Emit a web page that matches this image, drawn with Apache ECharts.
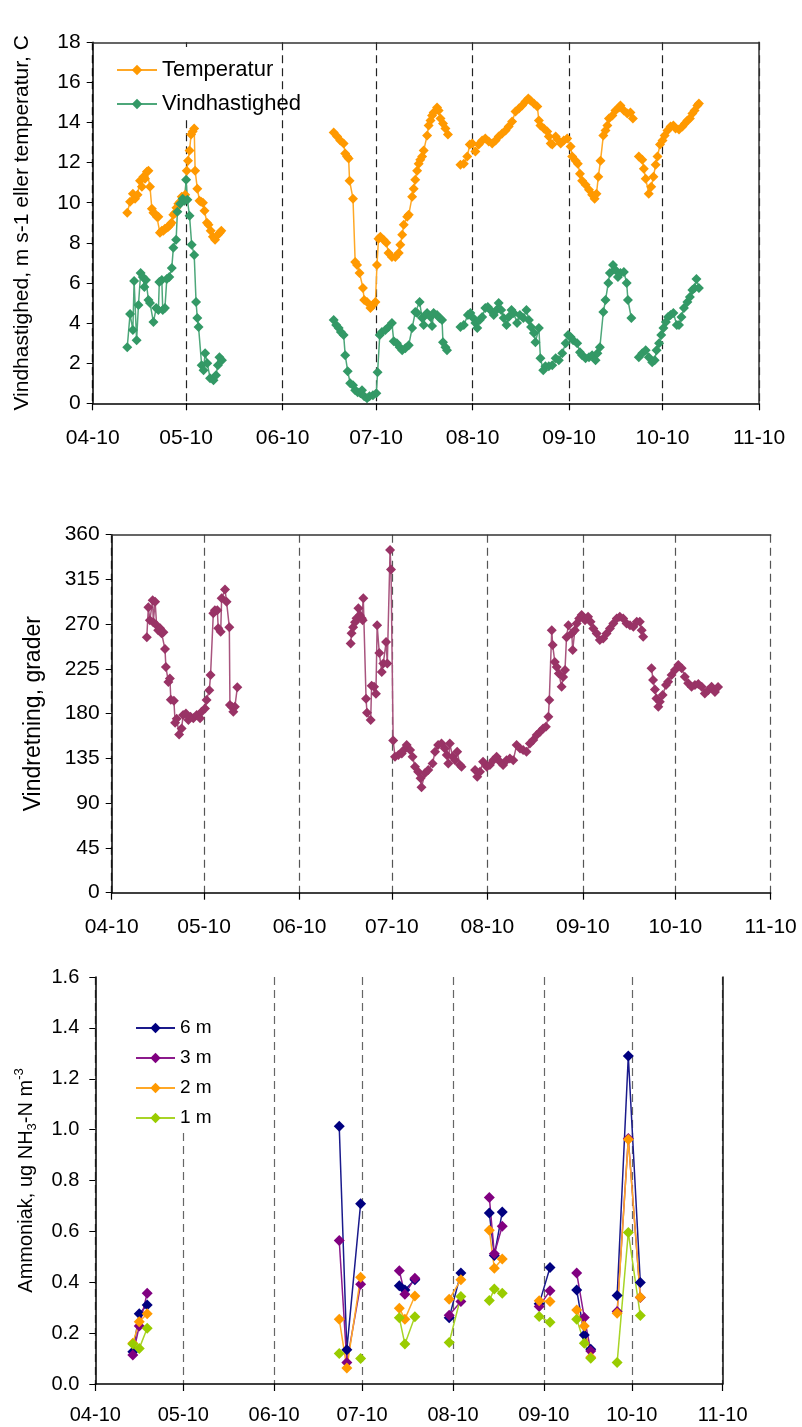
<!DOCTYPE html>
<html>
<head>
<meta charset="utf-8">
<script src="https://cdn.jsdelivr.net/npm/echarts@6/dist/echarts.min.js"></script>
<style>
html,body{margin:0;padding:0;background:#fff;}
#c{width:802px;height:1427px;}
</style>
</head>
<body>
<div id="c"></div>
<script>
// ---------- DATA (day offsets from 1 April 2010, value) ----------
const tickMonths = ['04-10','05-10','06-10','07-10','08-10','09-10','10-10','11-10'];

const tempSegments = [
 [[11.1,9.5],[12.0,10.05],[12.9,10.45],[13.6,10.2],[14.4,10.4],[15.2,11.1],[15.8,10.8],[16.3,11.3],[16.8,11.2],[17.4,11.55],[17.9,11.6],[18.4,10.8],[19.0,9.7],[19.5,9.5],[20.0,9.45],[20.6,9.3],[21.1,9.3],[21.6,8.5],[22.2,8.6],[22.7,8.6],[23.2,8.7],[23.8,8.75],[24.3,8.8],[24.9,8.9],[25.3,9.0],[25.9,9.4],[26.5,9.5],[26.9,9.75],[27.5,9.95],[28.1,10.05],[28.6,10.3],[29.1,10.25],[29.7,10.4],[30.2,11.6],[30.6,12.1],[31.1,12.6],[31.6,13.4],[32.1,13.55],[32.6,13.7],[32.9,11.6],[33.6,10.7],[34.3,10.1],[34.8,10.05],[35.4,10.0],[35.9,9.6],[36.7,9.0],[37.2,8.9],[37.9,8.6],[38.6,8.3],[39.3,8.15],[40.2,8.4],[40.8,8.5],[41.3,8.6]],
 [[77.4,13.5],[78.5,13.3],[79.5,13.1],[80.6,12.95],[81.1,12.45],[81.7,12.3],[82.2,12.2],[82.5,11.1],[83.6,10.2],[84.3,7.05],[84.9,6.9],[85.7,6.5],[86.8,5.75],[87.2,5.15],[88.1,5.05],[89.2,4.75],[90.0,4.9],[90.8,5.05],[91.3,6.9],[91.8,8.2],[92.4,8.3],[93.4,8.15],[94.3,8.0],[95.0,7.5],[96.1,7.3],[97.2,7.3],[98.3,7.5],[98.8,7.9],[99.4,8.4],[99.9,8.9],[101.0,9.3],[101.5,9.4],[102.6,10.3],[103.1,10.7],[103.6,11.15],[104.2,11.6],[104.7,11.95],[105.2,12.15],[105.8,12.3],[106.3,12.6],[107.4,13.35],[107.9,13.85],[108.5,14.1],[109.0,14.35],[109.5,14.5],[110.6,14.75],[111.1,14.6],[111.7,14.2],[112.5,13.95],[113.3,13.7],[114.1,13.4]],
 [[118.1,11.9],[119.2,11.95],[120.3,12.3],[121.1,12.9],[121.9,12.95],[122.9,12.55],[124.0,12.9],[125.1,13.1],[126.1,13.2],[127.2,13.05],[128.3,12.95],[129.4,13.1],[130.4,13.3],[131.5,13.45],[132.6,13.6],[133.6,13.8],[134.7,14.05],[135.8,14.55],[136.9,14.7],[137.9,14.85],[139.0,15.05],[139.9,15.2],[140.6,15.1],[141.7,14.95],[142.8,14.8],[143.3,14.1],[143.8,13.85],[144.9,13.7],[146.0,13.55],[146.5,13.3],[147.1,12.95],[147.6,12.9],[148.7,13.3],[149.6,13.1],[150.3,12.95],[151.3,13.1],[152.4,13.2],[153.5,12.8],[154.0,12.3],[155.1,12.1],[155.8,11.95],[156.5,11.45],[157.2,11.1],[158.3,10.9],[159.4,10.65],[160.4,10.4],[161.2,10.2],[161.8,10.45],[162.4,11.3],[163.1,12.1],[164.0,13.35],[164.7,13.6],[165.3,13.85],[165.8,14.2],[166.9,14.35],[167.9,14.6],[169.0,14.75],[169.5,14.85],[170.6,14.6],[171.7,14.45],[172.7,14.5],[173.5,14.2]],
 [[175.4,12.3],[176.5,12.15],[177.0,11.7],[177.6,11.2],[178.6,10.45],[179.4,10.8],[180.1,11.3],[180.8,11.9],[181.4,12.3],[182.2,12.9],[183.0,13.1],[183.7,13.35],[184.6,13.6],[185.6,13.8],[186.5,13.85],[187.2,13.7],[188.3,13.65],[189.4,13.8],[190.2,13.95],[191.0,14.1],[191.8,14.2],[192.6,14.45],[193.3,14.6],[194.2,14.85],[194.7,14.95]]
];

const windSegments = [
 [[11.1,2.8],[12.0,4.45],[12.9,3.65],[13.3,6.1],[14.1,3.15],[14.7,4.9],[15.4,6.5],[16.1,6.3],[16.6,5.8],[17.1,6.15],[17.9,5.15],[18.4,5.0],[19.5,4.05],[20.4,4.75],[21.1,4.65],[21.4,6.05],[22.2,6.15],[22.5,4.65],[23.2,4.75],[23.8,6.2],[24.6,6.3],[25.4,6.75],[25.9,7.75],[26.8,8.15],[27.2,9.55],[28.1,9.95],[28.9,10.2],[29.5,10.1],[30.0,11.15],[30.4,10.15],[31.1,9.35],[31.8,7.9],[32.6,7.4],[33.2,5.05],[33.6,4.25],[34.0,3.8],[35.0,1.9],[35.6,1.65],[36.1,2.5],[36.8,2.0],[37.7,1.25],[38.8,1.15],[39.6,1.4],[40.2,1.9],[40.7,2.3],[41.5,2.15]],
 [[77.4,4.15],[78.2,3.9],[79.0,3.75],[79.7,3.55],[80.6,3.4],[81.1,2.4],[81.9,1.6],[82.7,1.0],[83.6,0.9],[84.3,0.65],[85.1,0.55],[86.0,0.5],[86.5,0.65],[87.2,0.35],[88.1,0.25],[88.9,0.35],[90.0,0.4],[91.1,0.5],[91.5,1.55],[92.2,3.4],[92.9,3.55],[94.0,3.65],[95.0,3.8],[96.1,4.0],[96.7,3.1],[97.7,3.0],[98.6,2.8],[99.4,2.65],[100.4,2.75],[101.5,2.9],[102.6,3.75],[103.6,4.55],[104.2,4.5],[105.0,5.05],[105.8,4.25],[106.3,3.9],[106.9,4.4],[107.4,4.5],[108.5,4.3],[109.0,3.85],[109.5,4.5],[110.6,4.4],[111.4,4.25],[112.2,4.15],[112.5,3.05],[113.3,2.8],[113.8,2.65]],
 [[118.1,3.8],[119.2,3.9],[120.5,4.4],[121.3,4.5],[122.2,4.25],[122.9,4.0],[123.5,3.75],[124.3,4.15],[125.1,4.3],[126.1,4.75],[126.9,4.8],[127.7,4.65],[128.8,4.4],[129.7,4.65],[130.4,5.0],[131.2,4.65],[132.0,4.25],[132.9,3.9],[133.6,4.3],[134.5,4.65],[135.2,4.5],[136.3,4.0],[137.2,4.4],[138.3,4.25],[139.3,4.65],[140.1,4.15],[140.8,3.8],[141.7,3.5],[142.2,3.05],[143.3,3.75],[143.8,2.25],[144.7,1.65],[145.4,1.85],[146.5,1.85],[147.6,1.9],[148.7,2.25],[149.7,2.15],[150.8,2.5],[151.9,3.0],[152.7,3.4],[153.5,3.3],[154.3,3.15],[155.6,3.0],[156.5,2.55],[157.2,2.4],[158.3,2.25],[159.4,2.3],[160.4,2.4],[161.5,2.15],[162.1,2.5],[162.9,2.8],[164.0,4.55],[164.7,5.15],[165.6,6.0],[166.1,6.5],[167.1,6.9],[167.9,6.65],[168.7,6.3],[169.5,6.5],[170.6,6.55],[171.5,6.0],[171.9,5.15],[173.0,4.25]],
 [[175.4,2.3],[176.5,2.5],[177.6,2.65],[178.6,2.3],[179.7,2.05],[180.5,2.15],[181.1,2.65],[181.9,3.0],[182.6,3.4],[183.3,3.75],[184.1,4.05],[184.8,4.3],[185.6,4.4],[186.5,4.5],[187.6,3.9],[188.3,3.9],[189.1,4.3],[189.9,4.75],[191.0,5.05],[191.8,5.3],[192.6,5.65],[193.3,5.75],[193.9,6.2],[194.7,5.75]]
];

const dirSegments = [
 [[11.4,257],[11.9,287],[12.4,274],[13.3,294],[13.5,272],[14.1,292.5],[14.6,269],[15.1,264],[15.7,266],[16.2,261],[16.8,262],[17.3,245],[17.6,227],[18.4,212],[18.9,215.5],[19.2,194],[20.2,193],[20.6,171],[21.1,175],[21.9,159],[22.7,165],[23.2,178.6],[24.1,180.3],[24.9,173.6],[25.6,177],[26.5,175.3],[27.6,178.6],[28.7,175.3],[29.2,182],[30.3,185.3],[30.8,193.7],[31.7,203.7],[32.1,218.8],[33.0,281],[33.5,284],[34.3,284],[34.6,266],[35.4,262.4],[35.7,296],[36.8,305],[37.3,292.5],[38.2,267],[38.4,188.7],[39.0,187],[39.5,182],[40.0,187],[40.8,206.5]],
 [[77.6,250.7],[77.9,261],[78.4,267],[79.0,272],[79.5,276],[80.1,286],[80.6,279],[81.2,276],[81.5,274],[81.7,296],[82.6,195],[82.9,181],[84.1,173.6],[84.4,208],[85.2,207],[85.8,200],[86.2,269],[86.9,241],[87.7,222],[88.2,230.6],[89.1,252],[89.5,230.6],[90.4,344.5],[90.7,325],[91.4,153],[92.0,136.7],[93.1,138.4],[94.2,140],[94.7,143],[95.8,148.4],[96.9,143.4],[97.7,136.7],[98.5,126.6],[99.5,121.6],[100.3,115],[100.6,106],[101.7,120],[102.8,123.3],[104.2,130],[105.0,141.7],[106.0,148.4],[107.1,150],[108.2,145],[108.8,138.4],[109.3,130],[109.8,150],[110.7,136.7],[111.5,133.3],[112.2,141.7],[113.1,128.3],[113.6,126.6]],
 [[118.0,123.3],[118.7,116.5],[119.6,121.6],[120.6,131.6],[121.8,126.6],[122.8,128.3],[123.9,133.3],[125.0,136.7],[126.1,131.6],[127.1,128.3],[128.2,133.3],[129.3,135],[130.4,133.3],[131.5,148.4],[132.6,145],[133.6,143.4],[134.7,141.7],[135.8,150],[136.9,153.5],[138.0,158.5],[139.1,161.8],[140.1,165.2],[141.0,166.8],[141.8,177],[142.1,193.7],[142.9,264],[143.2,249],[143.9,232],[144.5,227],[145.2,220.5],[146.1,207],[146.6,217],[147.2,224],[147.7,257],[148.3,269],[149.4,260.7],[149.7,244],[150.4,264],[151.0,270.8],[151.8,275.8],[152.6,279.2],[153.7,274],[154.7,277.5],[155.5,272.4],[156.4,265.8],[157.5,260.7],[158.5,254],[159.6,255.7],[160.7,260.7],[161.8,265.8],[162.9,270.8],[164.0,275.8],[165.0,277.5],[166.1,275.8],[167.2,270.8],[168.3,269],[169.4,267.4],[170.5,272.4],[171.5,272.4],[172.1,264],[172.6,257.3]],
 [[175.3,225.6],[175.8,213.8],[176.4,204.4],[176.9,195.4],[177.5,187],[178.0,192],[178.9,198.7],[180.0,208.8],[180.7,212.1],[181.8,218.8],[182.9,223.9],[184.0,228.9],[185.1,225.6],[186.1,217.1],[187.2,210.5],[188.3,207.1],[189.4,208.8],[190.5,209.8],[191.6,207.1],[192.6,200.4],[193.7,203.7],[194.8,207],[195.9,201.8],[196.9,206.8]]
];

// Ammonia: sampling days grouped in campaigns, values per height
const nh3Days = [[12.8,15.0,17.7],[83.2,85.8,90.5],[103.7,105.6,109.0],[120.7,124.7],[134.4,136.1,138.8],[151.4,155.1],[164.2,166.8,169.0],[178.0,181.8,185.9]];
const nh3_6m = [[0.127,0.276,0.311],[1.013,0.135,0.709],[0.386,0.37,0.41],[0.26,0.436],[0.672,0.505,0.676],[0.315,0.458],[0.37,0.193,0.137],[0.348,1.289,0.399]];
const nh3_3m = [[0.114,0.228,0.357],[0.564,0.085,0.392],[0.445,0.353,0.416],[0.27,0.324],[0.733,0.512,0.62],[0.305,0.367],[0.436,0.261,0.13],[0.285,0.965,0.34]];
const nh3_2m = [[0.16,0.245,0.276],[0.255,0.063,0.42],[0.298,0.255,0.346],[0.333,0.41],[0.604,0.455,0.491],[0.327,0.324],[0.291,0.228,0.105],[0.278,0.961,0.341]];
const nh3_1m = [[0.157,0.14,0.219],[0.12,null,0.10],[0.26,0.157,0.264],[0.163,0.344],[0.328,0.373,0.357],[0.265,0.243],[0.255,0.16,0.101],[0.085,0.596,0.269]];

// ---------- helpers ----------
const DAY = 86400000;
const T0 = new Date(2010, 3, 1).getTime();
const T1 = new Date(2010, 10, 1).getTime();
const toT = d => T0 + d * DAY;
function joinSegments(segs) {
  const out = [];
  segs.forEach((s, i) => {
    if (i > 0) {
      const prev = segs[i - 1][segs[i - 1].length - 1][0];
      out.push([toT((prev + s[0][0]) / 2), null]);
    }
    s.forEach(p => out.push([toT(p[0]), p[1]]));
  });
  return out;
}
function joinCampaigns(days, vals) {
  const segs = days.map((ds, i) => ds.map((d, j) => [d, vals[i][j]]));
  return joinSegments(segs);
}
const FONT = "'Liberation Sans', Arial, sans-serif";
function fmtMonth(v) {
  const d = new Date(v);
  const label = String(d.getMonth() + 1).padStart(2, '0') + '-' + String(d.getFullYear() % 100).padStart(2, '0');
  return tickMonths.indexOf(label) >= 0 ? label : '';
}
function timeAxis(gi, fs, margin, splitColor) {
  return {
    type: 'time', gridIndex: gi, min: T0, max: T1,
    splitNumber: 7, minInterval: 28 * DAY, maxInterval: 31 * DAY,
    axisLine: { show: true, onZero: false, lineStyle: { color: '#000', width: 1.5 } },
    axisTick: { show: true, length: 7, lineStyle: { color: '#000', width: 1.2 } },
    axisLabel: { formatter: fmtMonth, fontSize: fs, color: '#000', margin: margin, fontFamily: FONT, hideOverlap: false, showMinLabel: true, showMaxLabel: true },
    splitLine: { show: true, lineStyle: { type: [8, 5], color: splitColor, width: 1.2 } },
    minorTick: { show: false }
  };
}
function borderAxisX(gi) {
  return { type: 'value', gridIndex: gi, position: 'top', min: 0, max: 1, z: 5,
    axisLine: { show: true, onZero: false, lineStyle: { color: '#333', width: 1.5 } },
    axisTick: { show: false }, axisLabel: { show: false }, splitLine: { show: false } };
}
function borderAxisY(gi, color) {
  return { type: 'value', gridIndex: gi, position: 'right', min: 0, max: 1, z: 5,
    axisLine: { show: true, onZero: false, lineStyle: { color: color, width: 1.5 } },
    axisTick: { show: false }, axisLabel: { show: false }, splitLine: { show: false } };
}
function lineSeries(name, idx, data, color, lineColor, size) {
  return {
    type: 'line', name: name, xAxisIndex: idx, yAxisIndex: idx, data: data,
    symbol: 'diamond', symbolSize: size, showSymbol: true, showAllSymbol: true,
    connectNulls: false, animation: false,
    itemStyle: { color: color, borderWidth: 0 },
    lineStyle: { color: lineColor, width: 1.5 },
    emphasis: { disabled: true }
  };
}

const chart = echarts.init(document.getElementById('c'), null, { renderer: 'canvas' });
const option = {
  animation: false,
  backgroundColor: '#fff',
  textStyle: { fontFamily: FONT },
  grid: [
    { left: 92.7, top: 42.3, width: 666.3, height: 361, outerBoundsMode: 'none' },
    { left: 111.7, top: 534.7, width: 659, height: 358, outerBoundsMode: 'none' },
    { left: 95.3, top: 977, width: 627.4, height: 407, outerBoundsMode: 'none' }
  ],
  // white patches that hide the dashed month line behind each legend box
  graphic: [
    { type: 'rect', z: 1, left: 180, top: 47, shape: { x: 0, y: 0, width: 15, height: 71 }, style: { fill: '#fff' }, silent: true },
    { type: 'rect', z: 1, left: 177, top: 974, shape: { x: 0, y: 0, width: 15, height: 155 }, style: { fill: '#fff' }, silent: true }
  ],
  legend: [
    { data: ['Temperatur', 'Vindhastighed'], orient: 'vertical', left: 111, top: 53, itemWidth: 40, itemHeight: 13, itemGap: 10, selectedMode: false,
      textStyle: { fontSize: 22, lineHeight: 24, color: '#000', fontFamily: FONT } },
    { data: ['6 m', '3 m', '2 m', '1 m'], orient: 'vertical', left: 130, top: 1013, itemWidth: 39, itemHeight: 13, itemGap: 10, selectedMode: false,
      textStyle: { fontSize: 19, lineHeight: 20, color: '#000', fontFamily: FONT } }
  ],
  xAxis: [
    timeAxis(0, 21, 24, '#222'),
    timeAxis(1, 21, 24, '#555'),
    timeAxis(2, 20, 21, '#666'),
    borderAxisX(0),
    borderAxisX(1)
  ],
  yAxis: [
    { type: 'value', gridIndex: 0, min: 0, max: 18, interval: 2,
      axisLine: { show: true, onZero: false, lineStyle: { color: '#000', width: 1.5 } },
      axisTick: { show: true, length: 6, lineStyle: { color: '#000' } },
      axisLabel: { fontSize: 21, color: '#000', margin: 12 },
      splitLine: { show: false },
      name: 'Vindhastighed, m s-1 eller temperatur, C', nameLocation: 'middle', nameGap: 60,
      nameTextStyle: { fontSize: 21, color: '#000' } },
    { type: 'value', gridIndex: 1, min: 0, max: 360, interval: 45,
      axisLine: { show: true, onZero: false, lineStyle: { color: '#000', width: 1.5 } },
      axisTick: { show: true, length: 6, lineStyle: { color: '#000' } },
      axisLabel: { fontSize: 21, color: '#000', margin: 12 },
      splitLine: { show: false },
      name: 'Vindretning, grader', nameLocation: 'middle', nameGap: 67,
      nameTextStyle: { fontSize: 23, color: '#000' } },
    { type: 'value', gridIndex: 2, min: 0, max: 1.6, interval: 0.2,
      axisLine: { show: true, onZero: false, lineStyle: { color: '#000', width: 1.5 } },
      axisTick: { show: true, length: 6, lineStyle: { color: '#000' } },
      axisLabel: { fontSize: 20, color: '#000', margin: 16, formatter: v => v.toFixed(1) },
      splitLine: { show: false },
      name: 'Ammoniak, ug NH{sub|3}-N m{sup|-3}', nameLocation: 'middle', nameGap: 56,
      nameTextStyle: { fontSize: 20, color: '#000', lineHeight: 26,
        rich: { sub: { fontSize: 13, verticalAlign: 'bottom', color: '#000' }, sup: { fontSize: 13, verticalAlign: 'top', color: '#000' } } } },
    borderAxisY(0, '#333'),
    borderAxisY(2, '#111')
  ],
  series: [
    lineSeries('Temperatur', 0, joinSegments(tempSegments), '#FF9900', '#FFA826', 10),
    lineSeries('Vindhastighed', 0, joinSegments(windSegments), '#339966', '#4DA77A', 10),
    lineSeries('Vindretning', 1, joinSegments(dirSegments), '#993366', '#A8547E', 10),
    lineSeries('6 m', 2, joinCampaigns(nh3Days, nh3_6m), '#000080', '#1A1A8C', 11),
    lineSeries('3 m', 2, joinCampaigns(nh3Days, nh3_3m), '#800080', '#8C1A8C', 11),
    lineSeries('2 m', 2, joinCampaigns(nh3Days, nh3_2m), '#FF9900', '#FFA826', 11),
    lineSeries('1 m', 2, joinCampaigns(nh3Days, nh3_1m), '#99CC00', '#A8D426', 11)
  ]
};
chart.setOption(option);
</script>
</body>
</html>
